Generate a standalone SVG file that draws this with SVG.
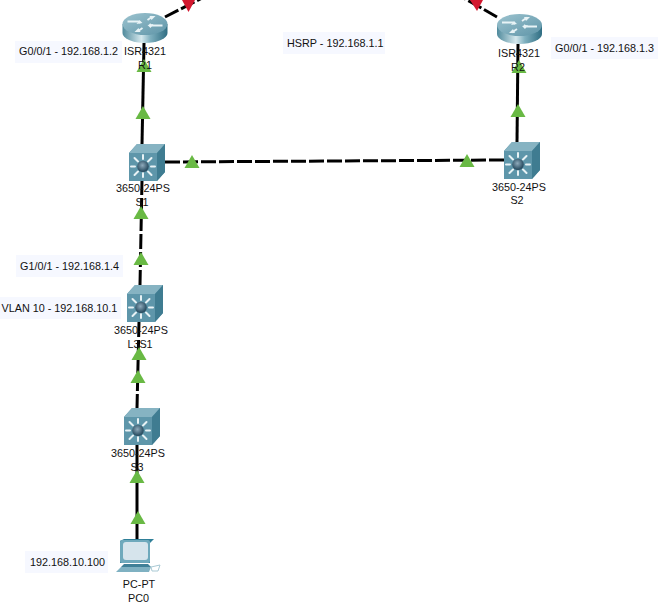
<svg xmlns="http://www.w3.org/2000/svg" xmlns:xlink="http://www.w3.org/1999/xlink" width="662" height="610" viewBox="0 0 662 610">
<style>
text{font-family:"Liberation Sans",Arial,sans-serif;font-size:10.8px;fill:#111}
.m{text-anchor:middle}
.bg{fill:#f6f8ff}
.l{fill:none;stroke:#000;stroke-width:3}
.d{stroke-dasharray:15 3}
.g{fill:#69b944}
.r{fill:#d3182f}
</style>
<defs>
<linearGradient id="rb" x1="0" x2="1" y1="0" y2="0">
<stop offset="0" stop-color="#4f8a9c"/><stop offset=".42" stop-color="#d5e8ed"/><stop offset=".62" stop-color="#7fb0bf"/><stop offset="1" stop-color="#2f6d82"/>
</linearGradient>
<linearGradient id="rt" x1="0" x2="1" y1="0" y2="1">
<stop offset="0" stop-color="#9cc3cf"/><stop offset="1" stop-color="#5f95a8"/>
</linearGradient>
<radialGradient id="hub" cx=".45" cy=".4"><stop offset="0" stop-color="#8faabb"/><stop offset="1" stop-color="#2f5266"/></radialGradient>
<g id="router">
<path d="M0 11V20a22.500 10 0 0 0 45 0V11Z" fill="url(#rb)"/>
<ellipse cx="22.500" cy="11" rx="22.500" ry="11" fill="url(#rt)"/>
<g fill="none" stroke="#e8f3f6" stroke-width="1.800">
<path d="M5 8.500H16l2 1.500M4 9M40 12.500H29l-2-1.500"/>
<path d="M25 7 30 3.500M20 15 15 18.500"/>
</g>
<path d="M33 3 27 3 29 7ZM12 19 18 19 16 15ZM17 7 20 10 14 11ZM28 15 25 12 31 11Z" fill="#e8f3f6"/>
</g>
<g id="switch">
<path d="M0 9 8 0H36V28L28 37H0Z" fill="#5e96aa"/>
<path d="M0 9 8 0H36L28 9Z" fill="#86b3c2"/>
<path d="M28 9 36 0V28L28 37Z" fill="#3f7c91"/>
<g stroke="#e8f2f5" stroke-width="2" stroke-linecap="round">
<path d="M14 15V11M14 33V29M2 22.500H6M22 22.500H26M5.500 14 9 17.500M22.500 14 19 17.500M5.500 31 9 27.500M22.500 31 19 27.500"/>
</g>
<circle cx="14" cy="22.500" r="5.800" fill="url(#hub)"/>
</g>
<path id="up" d="M0-7 7.500 6H-7.500Z"/>
</defs>

<g id="connectors">
<path class="l" d="M144 43 142 144"/>
<path class="l" d="M517 142 518 44"/>
<path class="l d" d="M142 180 140 285"/>
<path class="l d" d="M139 322 137 408"/>
<path class="l" d="M137 445 137 539"/>
<path class="l d" d="M165 162 504 160"/>
<path class="l d" d="M165 17 206 -4"/>
<path class="l d" d="M497 17 462 -3"/>
<use xlink:href="#up" href="#up" class="g" x="144" y="66"/>
<use xlink:href="#up" href="#up" class="g" x="143" y="113"/>
<use xlink:href="#up" href="#up" class="g" x="192" y="162"/>
<use xlink:href="#up" href="#up" class="g" x="467" y="161"/>
<use xlink:href="#up" href="#up" class="g" x="518" y="111"/>
<use xlink:href="#up" href="#up" class="g" x="519" y="67"/>
<use xlink:href="#up" href="#up" class="g" x="141" y="213"/>
<use xlink:href="#up" href="#up" class="g" x="141" y="259"/>
<use xlink:href="#up" href="#up" class="g" x="139" y="354"/>
<use xlink:href="#up" href="#up" class="g" x="138" y="377"/>
<use xlink:href="#up" href="#up" class="g" x="137" y="477"/>
<use xlink:href="#up" href="#up" class="g" x="138" y="518"/>
<path class="r" d="M182 0H195L188.500 12Z"/>
<path class="r" d="M470 0H483L477 11Z"/>
</g>

<g id="R1"><use xlink:href="#router" href="#router" x="122.500" y="13"/><text class="m" x="145" y="55">ISR4321</text><text class="m" x="145" y="69">R1</text></g>
<g id="R2"><use xlink:href="#router" href="#router" x="497" y="14"/><text class="m" x="519" y="57">ISR4321</text><text class="m" x="518" y="71">R2</text></g>
<g id="S1"><use xlink:href="#switch" href="#switch" x="129" y="144"/><text class="m" x="143" y="192">3650-24PS</text><text class="m" x="142" y="206">S1</text></g>
<g id="S2"><use xlink:href="#switch" href="#switch" x="504" y="142"/><text class="m" x="519" y="191">3650-24PS</text><text class="m" x="517" y="204">S2</text></g>
<g id="L3S1"><use xlink:href="#switch" href="#switch" x="127" y="285"/><text class="m" x="141" y="334">3650-24PS</text><text class="m" x="140" y="348">L3S1</text></g>
<g id="S3"><use xlink:href="#switch" href="#switch" x="124" y="408"/><text class="m" x="138" y="457">3650-24PS</text><text class="m" x="137" y="471">S3</text></g>
<g id="PC0">
<path d="M124 539H154L150 543V563H120V541Z" fill="#2f7f98"/>
<rect x="120" y="540" width="30" height="23" rx="2" fill="#6fa9bc"/>
<rect x="123" y="542" width="25" height="18" rx="3" fill="#d6e4ec"/>
<path d="M124 564H148L151 567H121Z" fill="#3f8097"/>
<path d="M121 567H151L149 572H116Z" fill="#7fb1c2"/>
<path d="M151 567 160 565 158 571H152Z" fill="none" stroke="#a9c9d4"/>
<text class="m" x="139" y="588">PC-PT</text><text class="m" x="138.500" y="602">PC0</text>
</g>

<g id="note-r1"><rect class="bg" x="15" y="41" width="107" height="22"/><text x="19" y="55">G0/0/1 - 192.168.1.2</text></g>
<g id="note-r2"><rect class="bg" x="551" y="37" width="107" height="22"/><text x="555" y="52">G0/0/1 - 192.168.1.3</text></g>
<g id="note-hsrp"><rect class="bg" x="283" y="32" width="102" height="22"/><text x="287" y="47">HSRP - 192.168.1.1</text></g>
<g id="note-g1"><rect class="bg" x="16" y="255" width="107" height="22"/><text x="20" y="270">G1/0/1 - 192.168.1.4</text></g>
<g id="note-vlan"><rect class="bg" x="0" y="297" width="121" height="22"/><text x="1.500" y="312">VLAN 10 - 192.168.10.1</text></g>
<g id="note-pc"><rect class="bg" x="25" y="551" width="83" height="22"/><text x="30" y="566">192.168.10.100</text></g>
</svg>
